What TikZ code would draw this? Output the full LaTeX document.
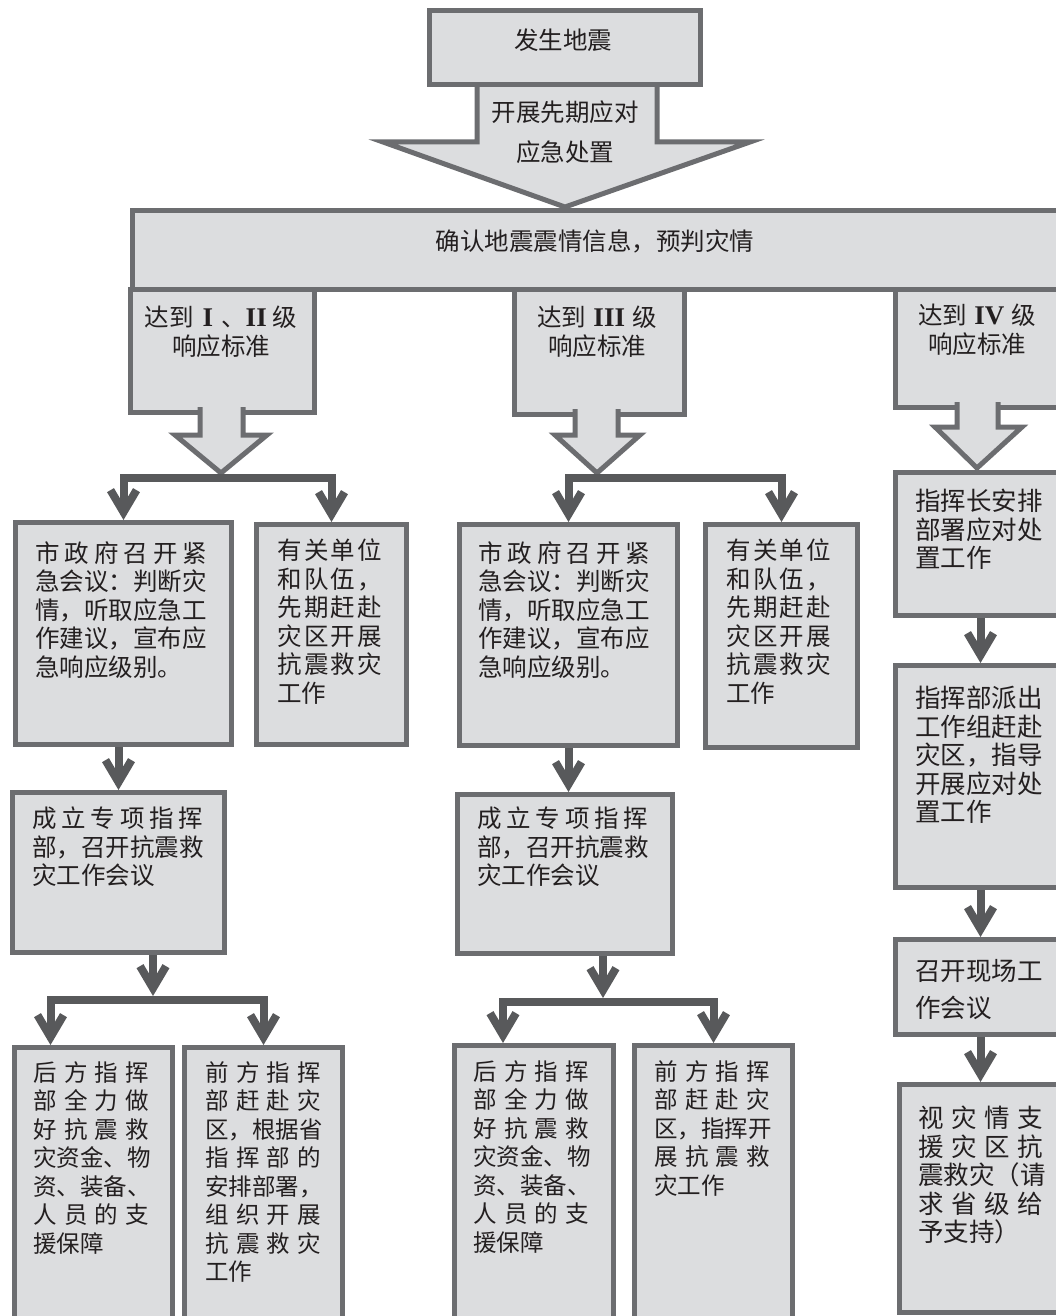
\documentclass[tikz,border=0pt]{standalone}
\usepackage{fontspec}
\newfontfamily\cjk{Noto Sans CJK SC}
\newfontfamily\romanfont{Liberation Serif}
\usetikzlibrary{arrows.meta}
\setlength{\parindent}{0pt}

\definecolor{panelfill}{RGB}{220,221,223}
\definecolor{panelline}{RGB}{108,109,112}
\definecolor{linkgray}{RGB}{88,89,91}
\definecolor{inkblack}{RGB}{35,31,32}

% spread the characters of one line over the whole text width
\newcommand{\spreadrow}[1]{\makebox[\hsize][s]{\spreadnext#1\relax\unskip}}
\def\spreadnext#1{\ifx\relax#1\else#1\hfil\expandafter\spreadnext\fi}
\newcommand{\rnum}[1]{{\romanfont\bfseries\fontsize{27}{28.5}\selectfont #1}}

\tikzset{
  panel/.style={draw=panelline, fill=panelfill, line width=5pt, anchor=north west, inner sep=0pt},
  hollow/.style={draw=panelline, fill=panelfill, line width=5pt},
  words/.style={anchor=north west, inner sep=0pt, text width=#1, align=left, text=inkblack,
    font=\cjk\fontsize{24.5}{28.5}\selectfont},
  title/.style={inner sep=0pt, align=center, text=inkblack, font=\cjk\fontsize{24.5}{28.5}\selectfont},
  link/.style={draw=linkgray, line width=8pt, -{Straight Barb[length=22pt,width=26pt]}}
}

\begin{document}
\begin{tikzpicture}[x=1pt, y=-1pt]
  \useasboundingbox (0,0) rectangle (1056,1316);
  \clip (0,0) rectangle (1056,1316);

  % top part
  \node[panel, minimum width=940pt, minimum height=79pt] (survey) at (130,208) {};
  \filldraw[hollow] (477,80) -- (477,142) -- (383,142) -- (565,207) -- (750,142) -- (657,142) -- (657,80) -- cycle;
  \node[panel, minimum width=271pt, minimum height=74pt] (quake) at (427,8) {};

  % response levels
  \node[panel, minimum width=184pt, minimum height=123pt] (L1) at (128,287) {};
  \node[panel, minimum width=170pt, minimum height=125pt] (L2) at (512,287) {};
  \node[panel, minimum width=175pt, minimum height=118pt] (L3) at (893,287) {};
  \filldraw[hollow] (200,407) -- (200,435) -- (175,435) -- (221,473) -- (267,435) -- (243,435) -- (243,407);
  \filldraw[hollow] (575,409) -- (575,435) -- (555,435) -- (597,473) -- (640,435) -- (618,435) -- (618,409);
  \filldraw[hollow] (957,402) -- (957,427) -- (935,427) -- (977,468) -- (1022,427) -- (998,427) -- (998,402);

  % left column
  \node[panel, minimum width=216pt, minimum height=222pt] (A1) at (13,520) {};
  \node[panel, minimum width=150pt, minimum height=220pt] (B1) at (254,522) {};
  \node[panel, minimum width=212pt, minimum height=160pt] (C1) at (10,790) {};
  \node[panel, minimum width=158pt, minimum height=300pt] (D1) at (12,1045) {};
  \node[panel, minimum width=158pt, minimum height=300pt] (E1) at (182,1045) {};

  % middle column
  \node[panel, minimum width=218pt, minimum height=221pt] (A2) at (457,522) {};
  \node[panel, minimum width=152pt, minimum height=223pt] (B2) at (703,522) {};
  \node[panel, minimum width=215pt, minimum height=159pt] (C2) at (455,792) {};
  \node[panel, minimum width=159pt, minimum height=300pt] (D2) at (452,1043) {};
  \node[panel, minimum width=158pt, minimum height=300pt] (E2) at (632,1043) {};

  % right column
  \node[panel, minimum width=170pt, minimum height=143pt] (F) at (893,470) {};
  \node[panel, minimum width=170pt, minimum height=222pt] (G) at (893,663) {};
  \node[panel, minimum width=170pt, minimum height=95pt] (H) at (893,937) {};
  \node[panel, minimum width=170pt, minimum height=228pt] (I) at (897,1082) {};

  % connectors
  \coordinate (fork1) at (221,478);
  \draw[link] (fork1) -| (A1.north);
  \draw[link] (fork1) -| (B1.north);
  \draw[link] (C1.north |- A1.south) -- (C1.north);
  \coordinate (fork2) at (153,1000);
  \draw[link] (C1.south -| fork2) -- ([yshift=4pt]fork2);
  \draw[link] (fork2) -| ([xshift=-43pt]D1.north);
  \draw[link] (fork2) -| (E1.north);

  \coordinate (fork3) at (597,478);
  \draw[link] (fork3) -| (A2.north);
  \draw[link] (fork3) -| (B2.north);
  \draw[link] (A2.south) -- (A2.south |- C2.north);
  \coordinate (fork4) at (603,1002);
  \draw[link] (C2.south -| fork4) -- ([yshift=4pt]fork4);
  \draw[link] (fork4) -| ([xshift=-31pt]D2.north);
  \draw[link] (fork4) -| (E2.north);

  \draw[link] (F.south) -- (G.north);
  \draw[link] (G.south) -- (H.north);
  \draw[link] (H.south) -- (H.south |- I.north);

  % texts
  \node[title] (quaketxt) at (563,40) {发生地震};
  \node[title, anchor=north, font=\cjk\fontsize{24.5}{40}\selectfont] (firsttxt) at (565,101) {开展先期应对\\应急处置};
  \node[title] (surveytxt) at (595,241) {确认地震震情信息，预判灾情};
  \node[title, anchor=north] (L1txt) at (221,306) {达到\hspace{9pt}\rnum{I}\hspace{8pt}、\rnum{II}\hspace{6pt}级\\响应标准};
  \node[title, anchor=north] (L2txt) at (597,306) {达到\hspace{7pt}\rnum{III}\hspace{7pt}级\\响应标准};
  \node[title, anchor=north] (L3txt) at (977,304) {达到\hspace{7pt}\rnum{IV}\hspace{7pt}级\\响应标准};

  \node[words=172pt] (A1txt) at (35,541) {\spreadrow{市政府召开紧}\\急会议：判断灾\\情，听取应急工\\作建议，宣布应\\急响应级别。};
  \node[words=105pt] (B1txt) at (277,539) {\spreadrow{有关单位}\\\spreadrow{和队伍，}\\\spreadrow{先期赶赴}\\\spreadrow{灾区开展}\\\spreadrow{抗震救灾}\\工作};
  \node[words=171pt] (C1txt) at (32,807) {\spreadrow{成立专项指挥}\\部，召开抗震救\\灾工作会议};
  \node[words=116pt, font=\cjk\fontsize{23.5}{28.5}\selectfont] (D1txt) at (33,1061) {\spreadrow{后方指挥}\\\spreadrow{部全力做}\\\spreadrow{好抗震救}\\\spreadrow{灾资金、物}\\\spreadrow{资、装备、}\\\spreadrow{人员的支}\\援保障};
  \node[words=116pt, font=\cjk\fontsize{23.5}{28.5}\selectfont] (E1txt) at (205,1061) {\spreadrow{前方指挥}\\\spreadrow{部赶赴灾}\\\spreadrow{区，根据省}\\\spreadrow{指挥部的}\\\spreadrow{安排部署，}\\\spreadrow{组织开展}\\\spreadrow{抗震救灾}\\工作};

  \node[words=172pt] (A2txt) at (478,541) {\spreadrow{市政府召开紧}\\急会议：判断灾\\情，听取应急工\\作建议，宣布应\\急响应级别。};
  \node[words=105pt] (B2txt) at (726,539) {\spreadrow{有关单位}\\\spreadrow{和队伍，}\\\spreadrow{先期赶赴}\\\spreadrow{灾区开展}\\\spreadrow{抗震救灾}\\工作};
  \node[words=171pt] (C2txt) at (477,807) {\spreadrow{成立专项指挥}\\部，召开抗震救\\灾工作会议};
  \node[words=116pt, font=\cjk\fontsize{23.5}{28.5}\selectfont] (D2txt) at (473,1060) {\spreadrow{后方指挥}\\\spreadrow{部全力做}\\\spreadrow{好抗震救}\\\spreadrow{灾资金、物}\\\spreadrow{资、装备、}\\\spreadrow{人员的支}\\援保障};
  \node[words=116pt, font=\cjk\fontsize{23.5}{28.5}\selectfont] (E2txt) at (654,1060) {\spreadrow{前方指挥}\\\spreadrow{部赶赴灾}\\\spreadrow{区，指挥开}\\\spreadrow{展抗震救}\\灾工作};

  \node[words=135pt, font=\cjk\fontsize{25.5}{28.5}\selectfont] (Ftxt) at (915,489) {指挥长安排\\部署应对处\\置工作};
  \node[words=135pt, font=\cjk\fontsize{25.5}{28.5}\selectfont] (Gtxt) at (915,686) {指挥部派出\\工作组赶赴\\灾区，指导\\开展应对处\\置工作};
  \node[words=135pt, font=\cjk\fontsize{25.5}{37}\selectfont] (Htxt) at (915,959) {召开现场工\\作会议};
  \node[words=125pt, font=\cjk\fontsize{25.5}{28.5}\selectfont] (Itxt) at (918,1106) {\spreadrow{视灾情支}\\\spreadrow{援灾区抗}\\震救灾（请\\\spreadrow{求省级给}\\予支持）};
\end{tikzpicture}
\end{document}
